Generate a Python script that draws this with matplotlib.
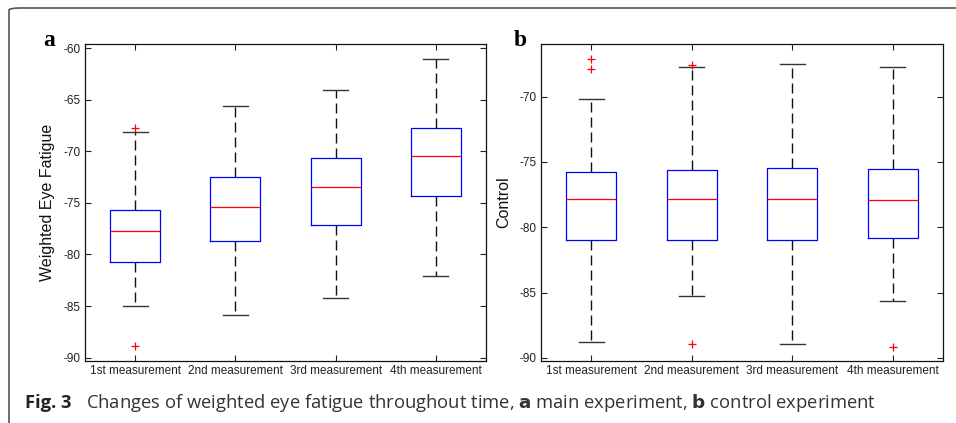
import matplotlib
matplotlib.use("Agg")
import matplotlib.pyplot as plt
from matplotlib.patches import FancyBboxPatch

plt.rcParams["font.family"] = ["Liberation Sans", "DejaVu Sans"]

categories = ["1st measurement", "2nd measurement", "3rd measurement", "4th measurement"]

# Panel a: main experiment (weighted eye fatigue)
a_whislo = [-85.0, -85.9, -84.2, -82.1]
a_q1 = [-80.7, -78.7, -77.1, -74.3]
a_med = [-77.7, -75.4, -73.5, -70.45]
a_q3 = [-75.65, -72.5, -70.7, -67.7]
a_whishi = [-68.1, -65.6, -64.1, -61.1]
a_fliers = [[-67.7, -88.9], [], [], []]
a_yticks = [-90, -85, -80, -75, -70, -65, -60]

# Panel b: control experiment
b_whislo = [-88.75, -85.23, -88.92, -85.65]
b_q1 = [-80.97, -80.94, -80.99, -80.79]
b_med = [-77.8, -77.85, -77.83, -77.93]
b_q3 = [-75.74, -75.63, -75.48, -75.5]
b_whishi = [-70.2, -67.73, -67.5, -67.7]
b_fliers = [[-67.14, -67.88], [-67.6, -88.95], [], [-89.15]]
b_yticks = [-90, -85, -80, -75, -70]

fig = plt.figure(figsize=(9.56, 4.23), dpi=100)
W, H = 956, 423

def px_axes(l, r, t, b):
    return [l / W, (H - b) / H, (r - l) / W, (b - t) / H]

def draw_panel(ax, whislo, q1, med, q3, whishi, fliers, yticks, ylim, ylabel):
    stats = []
    for i in range(len(categories)):
        stats.append(dict(whislo=whislo[i], q1=q1[i], med=med[i], q3=q3[i],
                          whishi=whishi[i], fliers=fliers[i], label=categories[i]))
    ax.bxp(stats, positions=range(1, len(categories) + 1), widths=0.5,
           capwidths=0.25, showfliers=True,
           boxprops=dict(color="#0000ff", linewidth=0.9),
           medianprops=dict(color="#ff0000", linewidth=0.9),
           whiskerprops=dict(color="#111111", linewidth=1.0, linestyle=(0, (7.2, 3.6))),
           capprops=dict(color="#333333", linewidth=1.0),
           flierprops=dict(marker="+", markeredgecolor="#ff0000", markersize=6,
                           markeredgewidth=0.9, linestyle="none"))
    ax.set_xlim(0.5, 4.5)
    ax.set_ylim(*ylim)
    ax.set_yticks(yticks)
    ax.set_yticklabels([str(v) for v in yticks])
    ax.set_xticks(range(1, len(categories) + 1))
    ax.set_xticklabels(categories)
    ax.tick_params(direction="in", top=True, right=True, length=4, width=0.8,
                   labelsize=8.5, pad=3, colors="#222222", labelcolor="#222222")
    for s in ax.spines.values():
        s.set_linewidth(0.9)
        s.set_color("#111111")
    ax.set_ylabel(ylabel, fontsize=11.5, labelpad=6, color="#111111")

ax1 = fig.add_axes(px_axes(85, 486, 44, 361))
draw_panel(ax1, a_whislo, a_q1, a_med, a_q3, a_whishi, a_fliers, a_yticks,
           (-90.32, -59.61), "Weighted Eye Fatigue")
ax2 = fig.add_axes(px_axes(541, 943, 44, 361))
draw_panel(ax2, b_whislo, b_q1, b_med, b_q3, b_whishi, b_fliers, b_yticks,
           (-90.23, -65.97), "Control")

fig.text(49 / W, 1 - 40 / H, "a", family="Liberation Serif", weight="bold",
         fontsize=17, ha="center", va="center")
fig.text(520 / W, 1 - 40 / H, "b", family="Liberation Serif", weight="bold",
         fontsize=17, ha="center", va="center")

# Caption
cap_y = 1 - 403 / H
fig.text(25 / W, cap_y, "Fig. 3", family="Open Sans", weight="bold",
         fontsize=13.2, ha="left", va="center", color="#222222")
fig.text(86 / W, cap_y,
         "Changes of weighted eye fatigue throughout time, $\\mathbf{a}$ main experiment, $\\mathbf{b}$ control experiment",
         family="Open Sans", fontsize=13.2, ha="left", va="center", color="#333333")

# Figure frame (rounded, open to the right and bottom)
frame = FancyBboxPatch((9 / W, -12 / H), 1.2, (423 - 8 + 12) / H,
                       boxstyle="round,pad=0,rounding_size=0.012",
                       transform=fig.transFigure, facecolor="none",
                       edgecolor="#555555", linewidth=1.2, clip_on=False,
                       mutation_aspect=H / W)
fig.patches.append(frame)

fig.savefig("out.png", dpi=100)
